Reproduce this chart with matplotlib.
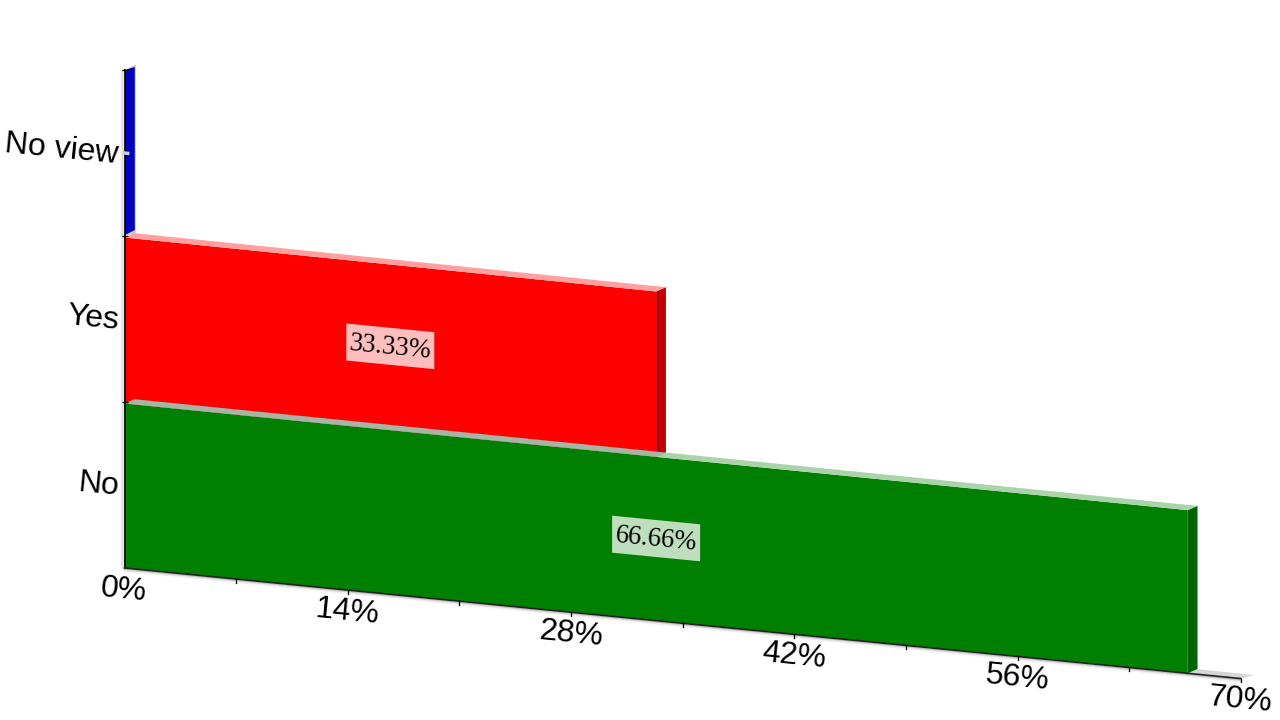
import matplotlib
matplotlib.use("Agg")
import numpy as np
import matplotlib.pyplot as plt
from matplotlib.patches import Polygon
from matplotlib.transforms import Affine2D, Transform

categories = ["No", "Yes", "No view"]
values = [66.66, 33.33, 0.0]
labels = ["66.66%", "33.33%", None]
xticks = [0, 14, 28, 42, 56, 70]
xminor = [7, 21, 35, 49, 63]
xticklabels = ["0%", "14%", "28%", "42%", "56%", "70%"]
front = ["#008000", "#ff0000", "#0000ff"]
side = ["#006400", "#c00000", "#0000c0"]
top = ["#abd3ab", "#ff9f9f", "#c8c8c8"]

X0, Y0, SX, SY, H, K = 124.5, 568.0, 15.95, 1.58, 166.0, 0.02
DX, DY = 9.8, -4.3
INSET = 1.5
ANGLE = -5.6


class Skew(Transform):
    input_dims = 2
    output_dims = 2

    def transform_non_affine(self, xy):
        xy = np.asarray(xy, dtype=float)
        v, c = xy[:, 0], xy[:, 1]
        return np.column_stack([X0 + SX * v, Y0 + SY * v - H * c + K * c * v])


fig = plt.figure(figsize=(12.8, 7.2), dpi=100)
ax = fig.add_axes([0, 0, 1, 1])
ax.set_xlim(0, 1280)
ax.set_ylim(720, 0)
ax.axis("off")

skew = Skew()
T = skew + ax.transData


def off(dx, dy):
    return skew + Affine2D().translate(dx, dy) + ax.transData


def P(v, c, dx=0.0, dy=0.0):
    return skew.transform(np.array([[v, c]], dtype=float))[0] + np.array([dx, dy])


def quad(points, color, z, alpha=None):
    ax.add_patch(Polygon(np.array(points), closed=True, facecolor=color, edgecolor="none",
                         zorder=z, alpha=alpha))


def top_face(v0, v1, c, color, z):
    quad([P(v0, c, 0, INSET), P(v1, c, 0, INSET),
          P(v1, c, DX, DY + INSET), P(v0, c, DX, DY + INSET)], color, z)


def side_face(v, c0, c1, color, z):
    bottom = INSET if c0 > 0 else 0.0
    quad([P(v, c0, 0, bottom), P(v, c1, 0, INSET),
          P(v, c1, DX, DY + INSET), P(v, c0, DX, DY + bottom)], color, z)


# soft shadows along the axes
for i, a in enumerate([0.10, 0.06, 0.03]):
    ax.plot([0, 0], [0, 3], color="black", alpha=a, lw=1.2, transform=off(-1.5 - i, 0), zorder=0.5)
    ax.plot([0, 70], [0, 0], color="black", alpha=a, lw=1.2, transform=off(0, 1.5 + i), zorder=0.5)

# floor beyond the last bar
v_end = xticks[-1]
quad([P(values[0], 0), P(v_end, 0), P(v_end, 0, 13, -3.5), P(values[0], 0, DX, DY)], "#d6d6d6", 0.7)

# zero-height bar: a grey sliver behind a blue side face
quad([P(0, 2), P(0, 3), P(0, 3, 11.2, -5.5), P(0, 2, 11.2, -3)], "#c8c8c8", 1)
quad([P(0, 2, 0.5, -1), P(0, 3, 0.5, 0), P(0, 3, 10.3, -3), P(0, 2, 10.3, -6)], side[2], 1.1)

# front faces, back to front
for i in [1, 0]:
    bottom = INSET if i > 0 else 0.0
    quad([P(0, i, 0, bottom), P(values[i], i, 0, bottom),
          P(values[i], i + 1, 0, INSET), P(0, i + 1, 0, INSET)], front[i], 2 + (2 - i))

# top and side faces
for i in [1, 0]:
    side_face(values[i], i, i + 1, side[i], 5)
top_face(0, values[1], 2, top[1], 6)
top_face(values[1], values[0], 1, top[0], 6)
top_face(0, values[1], 1, "#a6b5a6", 6)

# axes
ax.plot([0, 0], [0, 3], color="black", lw=1.2, transform=T, zorder=8)
ax.plot([0, v_end], [0, 0], color="#222222", lw=1.2, transform=T, zorder=8)
ax.plot([0, v_end], [0, 0], color="#bbbbbb", lw=0.8, transform=off(0, 1.2), zorder=7.5)

# ticks
for v in xticks[1:] + xminor:
    ax.plot([v, v], [0, -0.022], color="black", lw=0.9, transform=T, zorder=8)
for c in [1, 2, 3]:
    ax.plot([0], [c], color="black", transform=T, zorder=8,
            marker="_", markersize=5, markeredgewidth=1.0)
ax.plot([0, 0.2], [2.5, 2.5], color="#d0d0d0", lw=2.5, transform=T, zorder=9)

# tick labels
for v, s in zip(xticks, xticklabels):
    ax.text(v, 0, s, transform=off(-0.5, 22), family="Liberation Sans", fontsize=23,
            rotation=ANGLE, rotation_mode="anchor", ha="center", va="center", color="black", zorder=10)
for c, s in enumerate(categories):
    ax.text(0, c + 0.5, s, transform=off(-6, 2), family="Liberation Sans", fontsize=23,
            rotation=ANGLE, rotation_mode="anchor", ha="right", va="center", color="black", zorder=10)

# data labels with a sheared translucent box
for c, (v, s) in enumerate(zip(values, labels)):
    if s is None:
        continue
    m = P(v / 2, c + 0.5, 0, 0.5)
    w, h, sl = 44.0, 18.5, 0.098
    corners = [m + [-w, -h - sl * w], m + [w, -h + sl * w], m + [w, h + sl * w], m + [-w, h - sl * w]]
    quad(corners, "white", 10.5, alpha=0.75)
    ax.text(v / 2, c + 0.5, s, transform=off(0, 1.5), family="Liberation Serif", fontsize=19.3,
            rotation=ANGLE, rotation_mode="anchor", ha="center", va="center", color="black", zorder=11)

fig.savefig("out.png", dpi=100)
